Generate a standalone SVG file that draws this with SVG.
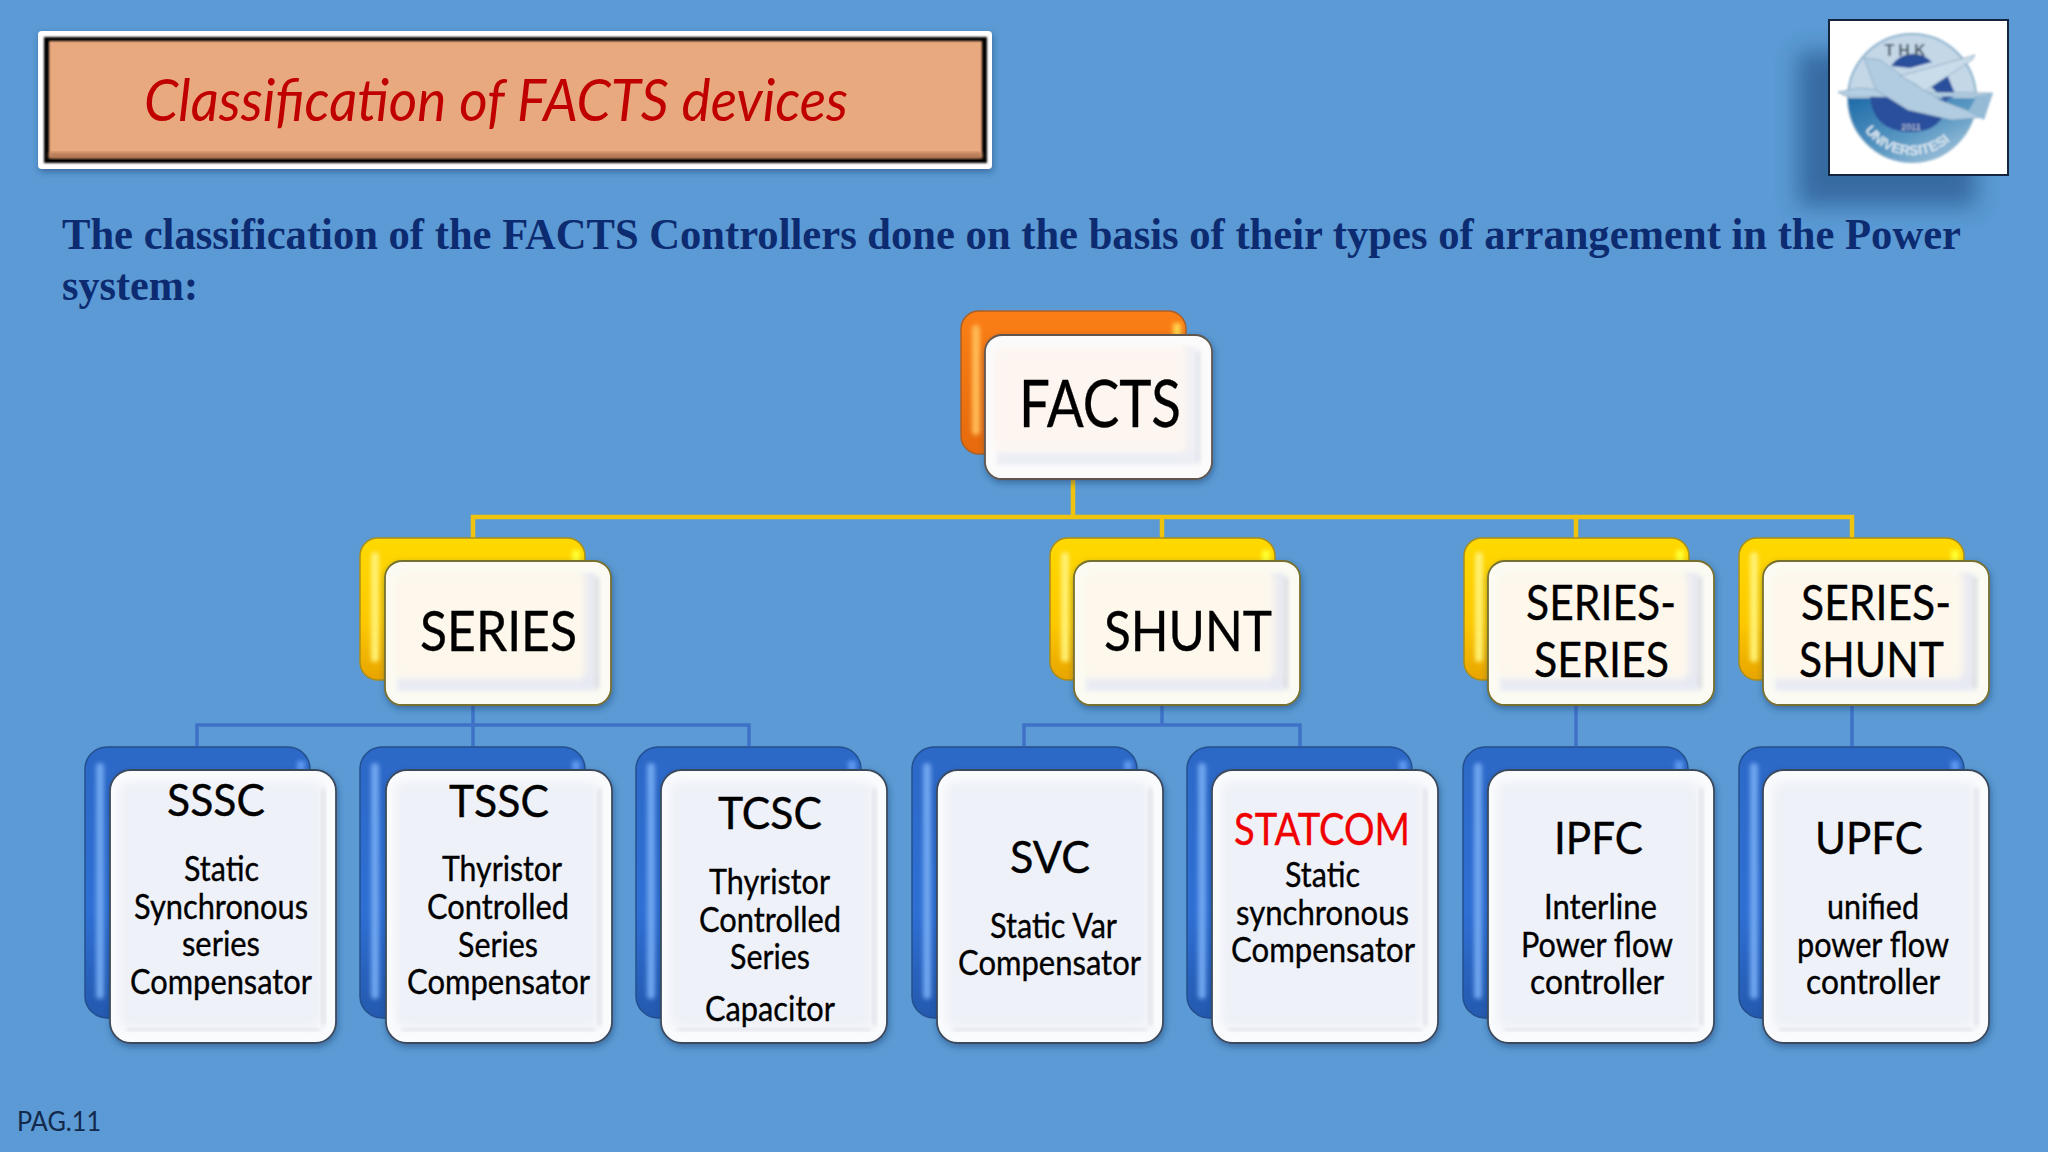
<svg xmlns="http://www.w3.org/2000/svg" xmlns:xlink="http://www.w3.org/1999/xlink" width="2048" height="1152" viewBox="0 0 2048 1152">
<style>
.t{font-family:"Lato","Liberation Sans",sans-serif;fill:#000;stroke:#000;stroke-width:.35}
.h1{font-size:65px}.h2{font-size:56px}.h3{font-size:49px}.h4{font-size:45px}.s{font-size:34px}
.body{font-family:"Liberation Serif",serif;font-weight:bold;font-size:44px;fill:#0d2b70}
.yl{fill:none;stroke:#efc30e;stroke-width:4.5}
.bl{fill:none;stroke:#3f72c7;stroke-width:3.5}
</style>
<defs>
<filter id="b1" x="-60%" y="-30%" width="220%" height="160%"><feGaussianBlur stdDeviation="2"/></filter>
<filter id="b3" x="-30%" y="-30%" width="160%" height="160%"><feGaussianBlur stdDeviation="4"/></filter>
<filter id="b12" x="-30%" y="-30%" width="160%" height="160%"><feGaussianBlur stdDeviation="11"/></filter>
<filter id="bl" x="-10%" y="-10%" width="120%" height="120%"><feGaussianBlur stdDeviation="0.8"/></filter>
<filter id="sh" x="-10%" y="-10%" width="120%" height="120%"><feDropShadow dx="1" dy="3" stdDeviation="3" flood-color="#17365f" flood-opacity=".45"/></filter>
<linearGradient id="gy" x1="0" y1="0" x2="0" y2="1"><stop offset="0" stop-color="#ffd900"/><stop offset=".6" stop-color="#fcc800"/><stop offset="1" stop-color="#e8a400"/></linearGradient>
<linearGradient id="go" x1="0" y1="0" x2="0" y2="1"><stop offset="0" stop-color="#fb7f16"/><stop offset="1" stop-color="#e66a0c"/></linearGradient>
<linearGradient id="gb" x1="0" y1="0" x2="0" y2="1"><stop offset="0" stop-color="#2c68c6"/><stop offset=".6" stop-color="#2f6fd4"/><stop offset="1" stop-color="#2459ae"/></linearGradient>
<linearGradient id="ring" x1="0" y1="0" x2="1" y2="1"><stop offset="0" stop-color="#1d6ba8"/><stop offset=".55" stop-color="#5c9ac4"/><stop offset="1" stop-color="#b7cfe2"/></linearGradient>
<g id="bk-o"><rect width="225" height="143" rx="18" fill="url(#go)" stroke="#a9602a" stroke-width="1.5"/><rect x="11" y="14" width="8" height="110" rx="4" fill="#ffba55" filter="url(#b1)"/><rect x="212" y="12" width="8" height="16" fill="#ffd24a" filter="url(#b1)"/></g>
<g id="bk-y"><rect width="225" height="142" rx="18" fill="url(#gy)" stroke="#a98d1a" stroke-width="1.5"/><rect x="11" y="14" width="8" height="110" rx="4" fill="#fff070" filter="url(#b1)"/><rect x="212" y="12" width="8" height="16" fill="#ffff30" filter="url(#b1)"/></g>
<g id="bk-b"><rect width="225" height="271" rx="22" fill="url(#gb)" stroke="#23508f" stroke-width="1.5"/><rect x="11" y="16" width="8" height="236" rx="4" fill="#6ea4ee" filter="url(#b1)"/><rect x="212" y="14" width="8" height="14" fill="#5f9af0" filter="url(#b1)"/></g>
<g id="fr-y"><rect width="226" height="144" rx="17" fill="#fbfbf3" stroke="#77702f" stroke-width="1.8" filter="url(#sh)"/><rect x="12" y="116" width="198" height="14" fill="#e9ebf4" filter="url(#b1)"/><rect x="196" y="12" width="14" height="112" fill="#e7e9f2" filter="url(#b1)"/><rect x="9" y="12" width="192" height="104" rx="5" fill="#fdf7ec" filter="url(#b3)"/><rect x="210" y="16" width="4" height="112" fill="#cfd2de" opacity=".8" filter="url(#b1)"/></g>
<g id="fr-o"><rect width="227" height="144" rx="17" fill="#fbfbfb" stroke="#615750" stroke-width="1.8" filter="url(#sh)"/><rect x="12" y="116" width="198" height="14" fill="#eceef6" filter="url(#b1)"/><rect x="198" y="12" width="12" height="112" fill="#edeef6" filter="url(#b1)"/><rect x="9" y="12" width="194" height="104" rx="5" fill="#fdf5f0" filter="url(#b3)"/><rect x="211" y="16" width="4" height="112" fill="#d5d9e6" opacity=".8" filter="url(#b1)"/></g>
<g id="fr-b"><rect width="226" height="273" rx="21" fill="#fafbfd" stroke="#3b4a5e" stroke-width="1.8" filter="url(#sh)"/><rect x="9" y="12" width="203" height="246" rx="8" fill="#eef1f8" filter="url(#b3)"/><rect x="212" y="18" width="3" height="238" fill="#cfd2da" opacity=".75" filter="url(#b1)"/><rect x="16" y="258" width="194" height="3" fill="#dadce4" opacity=".8" filter="url(#b1)"/></g>
<path id="arc" d="M1856 112 A58 58 0 0 0 1963 125"/>
</defs>
<rect width="2048" height="1152" fill="#5b9ad4"/>
<g id="title">
<rect x="38" y="31" width="954" height="138" rx="4" fill="#fff" filter="url(#sh)"/>
<rect x="44" y="37" width="943" height="126" fill="#000" filter="url(#bl)"/>
<rect x="49" y="41" width="933" height="117" fill="#e9a97e" filter="url(#bl)"/>
<rect x="49" y="153" width="933" height="5" fill="#a9704c" filter="url(#b1)"/>
<text x="144" y="121" textLength="704" lengthAdjust="spacingAndGlyphs" style="font-family:Lato,'Liberation Sans',sans-serif;font-style:italic;font-size:59px;fill:#c00000">Classification of FACTS devices</text>
</g>
<g id="logo">
<rect x="1798" y="52" width="178" height="154" fill="#2c5c92" opacity=".75" filter="url(#b12)"/>
<rect x="1829" y="20" width="179" height="155" fill="#fff" stroke="#14243f" stroke-width="2"/>
<g filter="url(#bl)">
<circle cx="1912" cy="98" r="64" fill="#c3d7e7" stroke="#8fb3cd" stroke-width="2"/>
<path d="M1848 98 A64 64 0 0 0 1976 98 Z" fill="url(#ring)"/>
<path d="M1870 95 L1947 100 Q1945 133 1908 132 Q1872 130 1870 95 Z" fill="#2b4f9c"/>
<path d="M1891 66 A26 26 0 0 1 1932 62 L1910 68 Z" fill="#2b4f9c"/>
<path d="M1928 84 L1946 72 L1956 96 L1945 100 Z" fill="#2b4f9c"/>
<path d="M1838 92 L1860 88 L1900 92 L1993 93 L1990 96 L1880 97 L1845 96 Z" fill="#b4cee2" stroke="#7e9fb8" stroke-width=".7"/>
<path d="M1864 58 L1880 60 L1905 78 L1940 100 L1985 117 L1952 120 L1908 110 L1876 90 Z" fill="#b1cce1" stroke="#7e9fb8" stroke-width=".7"/>
<path d="M1900 76 L1975 55 L1972 60 L1925 91 L1915 84 Z" fill="#c9dcea" stroke="#7e9fb8" stroke-width=".7"/>
<path d="M1968 112 L1977 96 L1993 93 L1984 120 Z" fill="#94bad6"/>
<text x="1907" y="56" text-anchor="middle" style="font-family:'Liberation Sans',sans-serif;font-weight:bold;font-size:16px;letter-spacing:4px;fill:#4c5a66">THK</text>
<text x="1911" y="130" text-anchor="middle" style="font-family:'Liberation Sans',sans-serif;font-size:9px;fill:#cfd8e6">2011</text>
<text style="font-family:'Liberation Sans',sans-serif;font-weight:bold;font-size:14px;fill:#dce8f1"><textPath href="#arc" xlink:href="#arc" startOffset="50%" text-anchor="middle">UNIVERSITESI</textPath></text>
</g>
</g>
<text class="body" x="62" y="249" textLength="1899" lengthAdjust="spacingAndGlyphs">The classification of the FACTS Controllers done on the basis of their types of arrangement in the Power</text>
<text class="body" x="62" y="300" textLength="136" lengthAdjust="spacingAndGlyphs">system:</text>
<g id="connectors">
<path class="yl" d="M1073 478V517M473 538V517H1852V538M1162 517V538M1576 517V538"/>
<path class="bl" d="M473 704V746M197 746V725H749V746M1162 704V725M1024 746V725H1300V746M1576 704V746M1852 704V746"/>
</g>
<g id="n-facts"><use href="#bk-o" xlink:href="#bk-o" x="961" y="311"/><use href="#fr-o" xlink:href="#fr-o" x="985" y="335"/><text class="t h1" x="1019" y="427" textLength="162" lengthAdjust="spacingAndGlyphs">FACTS</text></g>
<g id="n-series"><use href="#bk-y" xlink:href="#bk-y" x="360" y="538"/><use href="#fr-y" xlink:href="#fr-y" x="385" y="561"/><text class="t h2" x="420" y="651" textLength="157" lengthAdjust="spacingAndGlyphs">SERIES</text></g>
<g id="n-shunt"><use href="#bk-y" xlink:href="#bk-y" x="1050" y="538"/><use href="#fr-y" xlink:href="#fr-y" x="1074" y="561"/><text class="t h2" x="1104" y="651" textLength="168" lengthAdjust="spacingAndGlyphs">SHUNT</text></g>
<g id="n-series-series"><use href="#bk-y" xlink:href="#bk-y" x="1464" y="538"/><use href="#fr-y" xlink:href="#fr-y" x="1488" y="561"/><text class="t h3" x="1526" y="620" textLength="150" lengthAdjust="spacingAndGlyphs">SERIES-</text><text class="t h3" x="1534" y="677" textLength="135" lengthAdjust="spacingAndGlyphs">SERIES</text></g>
<g id="n-series-shunt"><use href="#bk-y" xlink:href="#bk-y" x="1739" y="538"/><use href="#fr-y" xlink:href="#fr-y" x="1763" y="561"/><text class="t h3" x="1801" y="620" textLength="150" lengthAdjust="spacingAndGlyphs">SERIES-</text><text class="t h3" x="1799" y="677" textLength="145" lengthAdjust="spacingAndGlyphs">SHUNT</text></g>
<g id="n-sssc"><use href="#bk-b" xlink:href="#bk-b" x="85" y="747"/><use href="#fr-b" xlink:href="#fr-b" x="110" y="770"/><text class="t h4" x="167" y="816" textLength="98" lengthAdjust="spacingAndGlyphs">SSSC</text><text class="t s" x="184" y="881" textLength="75" lengthAdjust="spacingAndGlyphs">Static</text><text class="t s" x="134" y="919" textLength="174" lengthAdjust="spacingAndGlyphs">Synchronous</text><text class="t s" x="182" y="956" textLength="78" lengthAdjust="spacingAndGlyphs">series</text><text class="t s" x="130" y="994" textLength="182" lengthAdjust="spacingAndGlyphs">Compensator</text></g>
<g id="n-tssc"><use href="#bk-b" xlink:href="#bk-b" x="360" y="747"/><use href="#fr-b" xlink:href="#fr-b" x="386" y="770"/><text class="t h4" x="449" y="817" textLength="100" lengthAdjust="spacingAndGlyphs">TSSC</text><text class="t s" x="442" y="881" textLength="120" lengthAdjust="spacingAndGlyphs">Thyristor</text><text class="t s" x="427" y="919" textLength="142" lengthAdjust="spacingAndGlyphs">Controlled</text><text class="t s" x="458" y="957" textLength="80" lengthAdjust="spacingAndGlyphs">Series</text><text class="t s" x="407" y="994" textLength="183" lengthAdjust="spacingAndGlyphs">Compensator</text></g>
<g id="n-tcsc"><use href="#bk-b" xlink:href="#bk-b" x="636" y="747"/><use href="#fr-b" xlink:href="#fr-b" x="661" y="770"/><text class="t h4" x="718" y="829" textLength="104" lengthAdjust="spacingAndGlyphs">TCSC</text><text class="t s" x="709" y="894" textLength="121" lengthAdjust="spacingAndGlyphs">Thyristor</text><text class="t s" x="699" y="932" textLength="142" lengthAdjust="spacingAndGlyphs">Controlled</text><text class="t s" x="730" y="969" textLength="80" lengthAdjust="spacingAndGlyphs">Series</text><text class="t s" x="705" y="1021" textLength="130" lengthAdjust="spacingAndGlyphs">Capacitor</text></g>
<g id="n-svc"><use href="#bk-b" xlink:href="#bk-b" x="912" y="747"/><use href="#fr-b" xlink:href="#fr-b" x="937" y="770"/><text class="t h4" x="1010" y="873" textLength="80" lengthAdjust="spacingAndGlyphs">SVC</text><text class="t s" x="990" y="938" textLength="127" lengthAdjust="spacingAndGlyphs">Static Var</text><text class="t s" x="958" y="975" textLength="183" lengthAdjust="spacingAndGlyphs">Compensator</text></g>
<g id="n-statcom"><use href="#bk-b" xlink:href="#bk-b" x="1187" y="747"/><use href="#fr-b" xlink:href="#fr-b" x="1212" y="770"/><text class="t h4" x="1234" y="845" textLength="176" lengthAdjust="spacingAndGlyphs" style="fill:#f00000;stroke:#f00000">STATCOM</text><text class="t s" x="1285" y="887" textLength="75" lengthAdjust="spacingAndGlyphs">Static</text><text class="t s" x="1236" y="925" textLength="173" lengthAdjust="spacingAndGlyphs">synchronous</text><text class="t s" x="1231" y="962" textLength="184" lengthAdjust="spacingAndGlyphs">Compensator</text></g>
<g id="n-ipfc"><use href="#bk-b" xlink:href="#bk-b" x="1463" y="747"/><use href="#fr-b" xlink:href="#fr-b" x="1488" y="770"/><text class="t h4" x="1554" y="854" textLength="89" lengthAdjust="spacingAndGlyphs">IPFC</text><text class="t s" x="1544" y="919" textLength="113" lengthAdjust="spacingAndGlyphs">Interline</text><text class="t s" x="1521" y="957" textLength="152" lengthAdjust="spacingAndGlyphs">Power flow</text><text class="t s" x="1530" y="994" textLength="134" lengthAdjust="spacingAndGlyphs">controller</text></g>
<g id="n-upfc"><use href="#bk-b" xlink:href="#bk-b" x="1739" y="747"/><use href="#fr-b" xlink:href="#fr-b" x="1763" y="770"/><text class="t h4" x="1815" y="854" textLength="108" lengthAdjust="spacingAndGlyphs">UPFC</text><text class="t s" x="1827" y="919" textLength="92" lengthAdjust="spacingAndGlyphs">unified</text><text class="t s" x="1797" y="957" textLength="152" lengthAdjust="spacingAndGlyphs">power flow</text><text class="t s" x="1806" y="994" textLength="134" lengthAdjust="spacingAndGlyphs">controller</text></g>
<text x="17" y="1131" textLength="84" lengthAdjust="spacingAndGlyphs" style="font-family:Lato,'Liberation Sans',sans-serif;font-size:26px;fill:#12294a">PAG.11</text>
</svg>
